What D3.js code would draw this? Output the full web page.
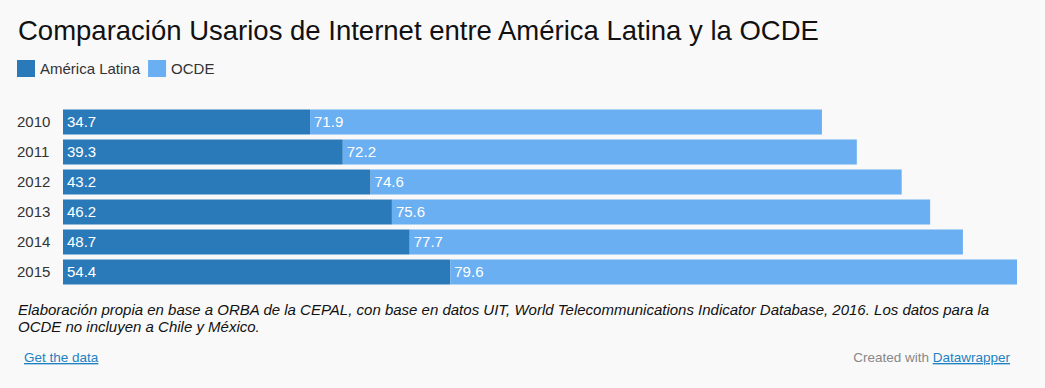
<!DOCTYPE html>
<html>
<head>
<meta charset="utf-8">
<script src="https://cdn.jsdelivr.net/npm/d3@7"></script>
<style>
  body { margin: 0; background: #f9f9f9; font-family: "Liberation Sans", Arial, Helvetica, sans-serif; }
</style>
</head>
<body>
<svg id="chart" width="1045" height="388"></svg>
<script>
var years = ["2010", "2011", "2012", "2013", "2014", "2015"];
var latam = [34.7, 39.3, 43.2, 46.2, 48.7, 54.4];
var ocde = [71.9, 72.2, 74.6, 75.6, 77.7, 79.6];
var seriesNames = ["América Latina", "OCDE"];
var seriesColors = ["#2a7ab9", "#6aaff2"];

var rows = years.map(function(y, i) { return { year: y, latam: latam[i], ocde: ocde[i] }; });
var stack = d3.stack().keys(["latam", "ocde"])(rows);

var svg = d3.select("#chart");
svg.append("rect").attr("width", 1045).attr("height", 388).attr("fill", "#f9f9f9");

// title
svg.append("text").attr("x", 18).attr("y", 40)
  .style("font-size", "27.5px").style("fill", "#111")
  .text("Comparación Usarios de Internet entre América Latina y la OCDE");

// legend
var lx = 17;
seriesNames.forEach(function(name, i) {
  var g = svg.append("g").attr("transform", "translate(" + lx + ", 60)");
  g.append("rect").attr("width", 18).attr("height", 17).attr("fill", seriesColors[i]);
  var t = g.append("text").attr("x", 23).attr("y", 14).style("font-size", "15px").style("fill", "#333").text(name);
  lx += 23 + t.node().getComputedTextLength() + 8;
});

var x = d3.scaleLinear().domain([0, d3.max(rows, function(d) { return d.latam + d.ocde; })]).range([63, 1017]);
var y = d3.scaleBand().domain(years).range([107, 287]).paddingInner(0.1667).paddingOuter(0.0833);

// year labels
svg.append("g").selectAll("text").data(years).join("text")
  .attr("x", 17).attr("y", function(d) { return y(d) + y.bandwidth() / 2 + 5; })
  .style("font-size", "15px").style("fill", "#333")
  .text(function(d) { return d; });

stack.forEach(function(layer, li) {
  var g = svg.append("g");
  g.selectAll("rect").data(layer).join("rect")
    .attr("x", function(d) { return x(d[0]); })
    .attr("y", function(d) { return y(d.data.year); })
    .attr("width", function(d) { return x(d[1]) - x(d[0]); })
    .attr("height", y.bandwidth())
    .attr("fill", seriesColors[li]);
  g.selectAll("text").data(layer).join("text")
    .attr("x", function(d) { return x(d[0]) + 4; })
    .attr("y", function(d) { return y(d.data.year) + y.bandwidth() / 2 + 5; })
    .style("font-size", "15px").style("fill", "#fff")
    .text(function(d) { return (d[1] - d[0]).toFixed(1); });
});

// notes
var notes = ["Elaboración propia en base a ORBA de la CEPAL, con base en datos UIT, World Telecommunications Indicator Database, 2016. Los datos para la",
  "OCDE no incluyen a Chile y México."];
svg.append("g").selectAll("text").data(notes).join("text")
  .attr("x", 18).attr("y", function(d, i) { return 315 + i * 17; })
  .style("font-size", "15px").style("font-style", "italic").style("fill", "#111")
  .text(function(d) { return d; });

svg.append("text").attr("x", 24).attr("y", 362)
  .style("font-size", "13.5px").style("fill", "#1d81c2").style("text-decoration", "underline")
  .text("Get the data");

var credit = svg.append("text").attr("x", 1010).attr("y", 362).attr("text-anchor", "end").style("font-size", "13.5px");
credit.append("tspan").style("fill", "#888").text("Created with ");
credit.append("tspan").style("fill", "#1d81c2").style("text-decoration", "underline").text("Datawrapper");
</script>
</body>
</html>
